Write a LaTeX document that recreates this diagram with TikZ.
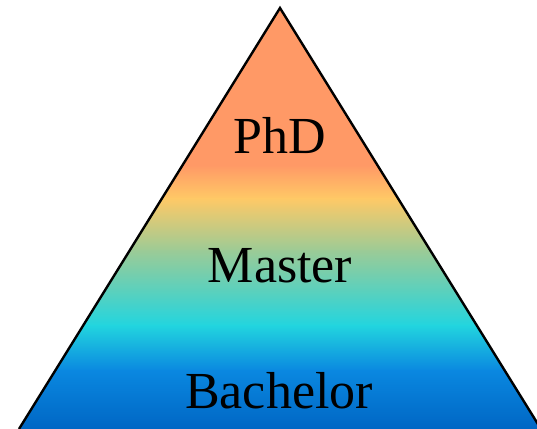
\documentclass[tikz,border=0pt]{standalone}
\usepackage{fontspec}
\setmainfont{Liberation Serif}
\definecolor{phdorange}{HTML}{FF9966}
\definecolor{gold}{HTML}{FFC966}
\definecolor{sage}{HTML}{9CCB96}
\definecolor{aqua}{HTML}{22D5DF}
\definecolor{sky}{HTML}{0A88E0}
\definecolor{deepblue}{HTML}{0066C4}
\begin{document}
\begin{tikzpicture}[x=0.5pt, y=-0.5pt,
    level/.style={anchor=base, font=\fontsize{26}{30}\selectfont}]
    \useasboundingbox (0,0) rectangle (537,429);
    \coordinate (apex) at (280,8);
    \coordinate (bl) at (19,429);
    \coordinate (br) at (541,429);

    % colour bands inside the pyramid
    \begin{scope}
        \clip (apex) -- (br) -- (bl) -- cycle;
        \fill[phdorange] (0,0) rectangle (537,166);
        \shade[top color=phdorange, bottom color=gold] (0,165) rectangle (537,199);
        \shade[top color=gold, bottom color=sage] (0,198) rectangle (537,251);
        \shade[top color=sage, bottom color=aqua] (0,250) rectangle (537,326);
        \shade[top color=aqua, bottom color=sky] (0,325) rectangle (537,371);
        \shade[top color=sky, bottom color=deepblue] (0,370) rectangle (537,430);
    \end{scope}
    \draw[line width=1.2pt, line join=miter] (bl) -- (apex) -- (br);

    \node[level] (phd) at (280,153) {PhD};
    \node[level] (master) at (280,282) {Master};
    \node[level] (bachelor) at (279,408) {Bachelor};
\end{tikzpicture}
\end{document}
